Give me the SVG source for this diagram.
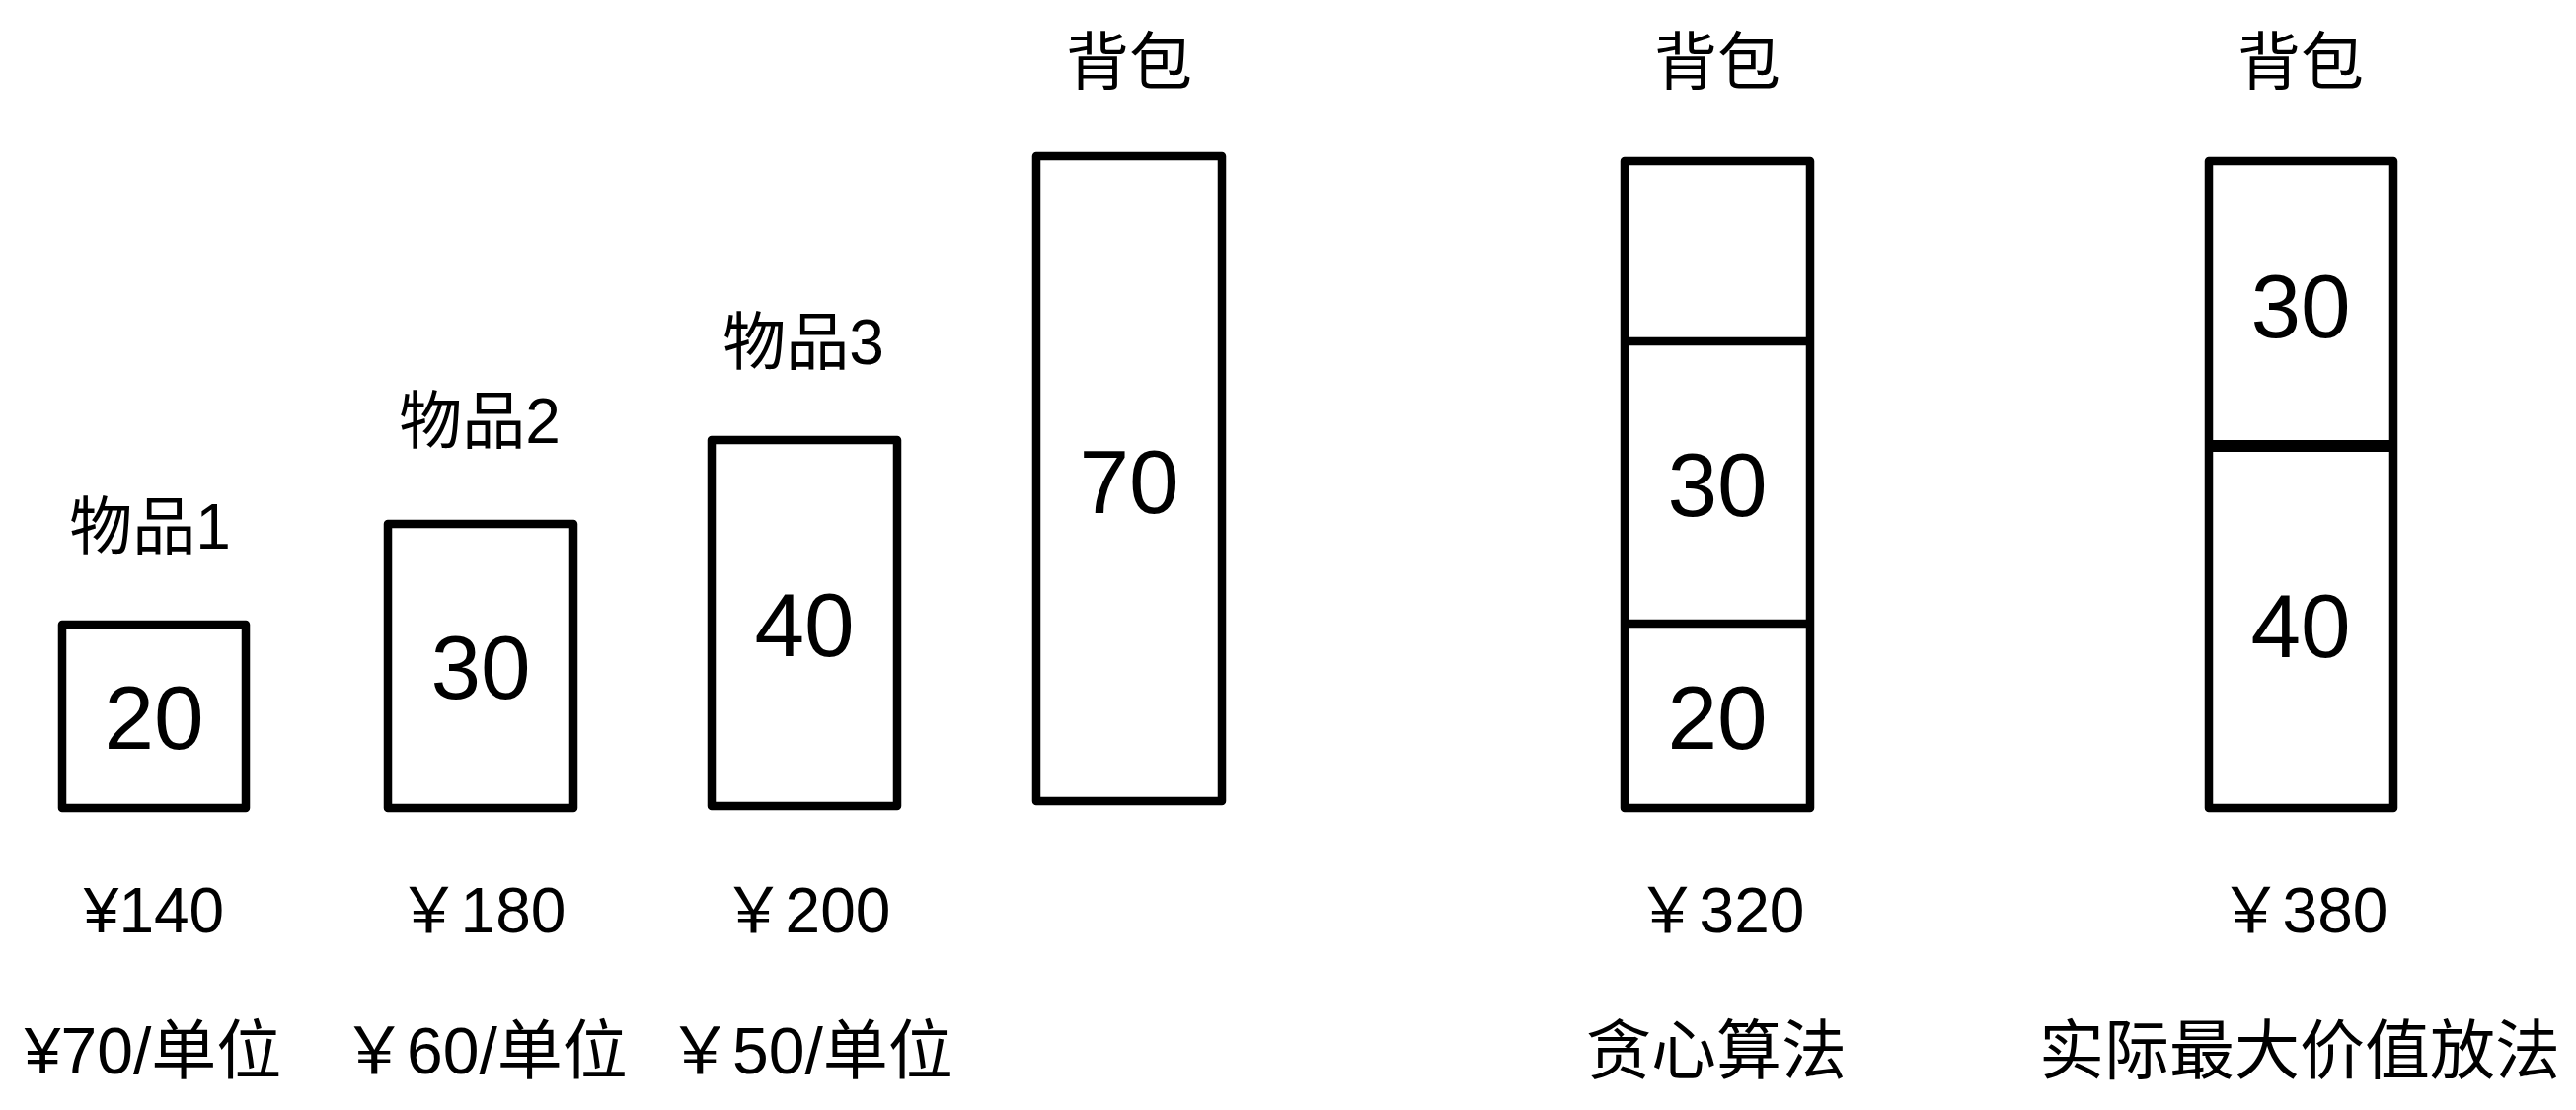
<svg xmlns="http://www.w3.org/2000/svg" width="2610" height="1125" viewBox="0 0 2610 1125">
<style>
.box{fill:#fff;stroke:#000;stroke-width:8.5;stroke-linejoin:round}
.div{stroke:#000;stroke-width:8.5}
text{font-family:"Liberation Sans","Noto Sans CJK SC",sans-serif;fill:#000;text-anchor:middle}
.num{font-size:91px}
.lab{font-size:64px}
.price{font-size:64px}
.bot{font-size:66px}
</style>
<rect width="2610" height="1125" fill="#fff"/>
<g id="item1">
<text class="lab" x="152" y="556">物品1</text>
<rect class="box" x="63" y="633" width="186" height="186"/>
<text class="num" x="156" y="759">20</text>
<text class="price" x="156" y="945">¥140</text>
<text class="bot" x="155" y="1088">¥70/单位</text>
</g>
<g id="item2">
<text class="lab" x="486" y="449">物品2</text>
<rect class="box" x="393" y="531" width="188" height="288"/>
<text class="num" x="487" y="708">30</text>
<text class="price" x="488" y="945">￥180</text>
<text class="bot" x="491" y="1088">￥60/单位</text>
</g>
<g id="item3">
<text class="lab" x="814" y="369">物品3</text>
<rect class="box" x="721" y="446" width="188" height="371"/>
<text class="num" x="815" y="665">40</text>
<text class="price" x="817" y="945">￥200</text>
<text class="bot" x="821" y="1088">￥50/单位</text>
</g>
<g id="bag">
<text class="lab" x="1144" y="85">背包</text>
<rect class="box" x="1050" y="158" width="188" height="654"/>
<text class="num" x="1144" y="520">70</text>
</g>
<g id="bag-greedy">
<text class="lab" x="1740" y="85">背包</text>
<rect class="box" x="1646" y="163" width="188" height="656"/>
<line class="div" x1="1646" y1="346" x2="1834" y2="346"/>
<line class="div" x1="1646" y1="632" x2="1834" y2="632"/>
<text class="num" x="1740" y="523">30</text>
<text class="num" x="1740" y="759">20</text>
<text class="price" x="1743" y="945">￥320</text>
<text class="bot" x="1739" y="1088">贪心算法</text>
</g>
<g id="bag-best">
<text class="lab" x="2331" y="85">背包</text>
<rect class="box" x="2238" y="163" width="187" height="656"/>
<line class="div" x1="2238" y1="452" x2="2425" y2="452" style="stroke-width:12"/>
<text class="num" x="2331" y="342">30</text>
<text class="num" x="2331" y="666">40</text>
<text class="price" x="2334" y="945">￥380</text>
<text class="bot" x="2330" y="1088">实际最大价值放法</text>
</g>
<g id="connectors"></g>
</svg>
